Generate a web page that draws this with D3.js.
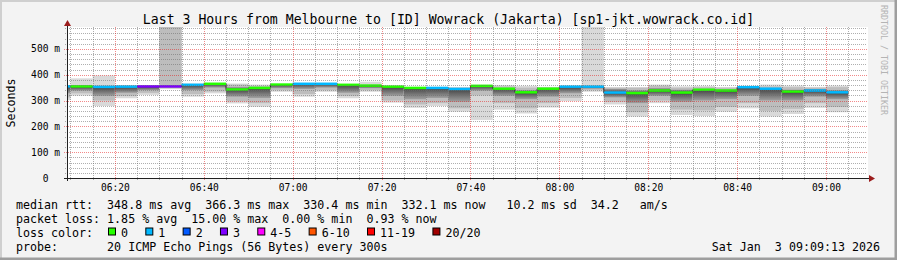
<!DOCTYPE html>
<html>
<head>
<meta charset="utf-8">
<script src="https://cdn.jsdelivr.net/npm/d3@7"></script>
<style>
  html, body { margin: 0; padding: 0; background: #f3f3f3; }
  svg { display: block; font-family: "DejaVu Sans Mono", monospace; }
  text { white-space: pre; }
</style>
</head>
<body>
<svg id="chart" width="897" height="260"></svg>
<script>
// --- data (ms), one entry per 5-minute step, keyed by step end time ---
const endTimes = ['06:10','06:15','06:20','06:25','06:30','06:35','06:40','06:45','06:50','06:55',
                  '07:00','07:05','07:10','07:15','07:20','07:25','07:30','07:35','07:40','07:45',
                  '07:50','07:55','08:00','08:05','08:10','08:15','08:20','08:25','08:30','08:35',
                  '08:40','08:45','08:50','08:55','09:00','09:05'];
const medianRtt = [354,354,352,353,354,354,360,364,342,348, 361,364,364,360,357,353,348,348,344,356,
                   345,331,345,353,353,330,328,338,330,341, 338,351,345,334,338,331];
const lostPings = [1,0,1,1,3,3,1,0,0,0, 0,1,1,0,0,0,0,1,1,0, 0,0,0,1,1,1,0,0,0,0, 0,1,1,0,1,1];
const pingMin   = [302,319,279,309,322,345,315,328,289,276, 334,315,334,309,334,292,272,279,257,225,
                   265,250,273,298,334,285,238,290,244,240, 257,270,238,248,272,255];
const ping10    = [312,328,300,318,330,348,325,335,297,290, 340,325,340,318,340,300,285,290,270,320,
                   290,270,290,310,340,295,255,300,265,262, 275,290,260,268,290,275];
const ping25    = [328,338,318,330,340,351,340,350,315,310, 348,345,350,330,348,318,305,310,295,338,
                   318,305,315,328,346,312,290,318,295,300, 305,318,300,300,315,305];
const ping75    = [356,357,354,355,356,357,362,366,352,352, 363,366,366,362,359,356,351,351,347,358,
                   348,340,348,355,356,345,340,348,342,345, 343,354,348,342,345,340];
const ping90    = [357,360,358,357,357,600,364,366,362,357, 363,367,367,362,362,356,351,351,350,359,
                   355,350,351,355,357,350,350,357,350,352, 350,354,355,352,350,352];
const pingMax   = [358,386,397,360,358,600,366,367,366,362, 364,368,368,363,373,358,352,352,352,361,
                   360,357,353,356,600,352,352,362,355,357, 352,354,362,358,353,358];

const xTickLabels = ['06:20','06:40','07:00','07:20','07:40','08:00','08:20','08:40','09:00'];
const yTickValues = [0, 100, 200, 300, 400, 500];
const yTickLabels = ['0  ', '100 m', '200 m', '300 m', '400 m', '500 m'];

const lossLabels = ['0', '1', '2', '3', '4-5', '6-10', '11-19', '20/20'];
const lossColors = ['#26ff00', '#00b8ff', '#0059ff', '#7e00ff', '#ff00ff', '#ff5500', '#ff0000', '#a10000'];
const lossBreaks = [1, 2, 3, 4, 6, 11, 20];

const titleText = 'Last 3 Hours from Melbourne to [ID] Wowrack (Jakarta) [sp1-jkt.wowrack.co.id]';
const legendLines = [
  'median rtt:  348.8 ms avg  366.3 ms max  330.4 ms min  332.1 ms now   10.2 ms sd  34.2   am/s',
  'packet loss: 1.85 % avg  15.00 % max  0.00 % min  0.93 % now',
  'loss color:',
  'probe:       20 ICMP Echo Pings (56 Bytes) every 300s'
];
const stampText = 'Sat Jan  3 09:09:13 2026';

// --- layout ---
const W = 897, H = 260;
const plot = { left: 67, right: 867, top: 27, bottom: 178 };
const charW = 7.02;

const parseHM = d3.timeParse('%H:%M');
const parseHMS = d3.timeParse('%H:%M:%S');

const x = d3.scaleTime()
  .domain([parseHMS('06:09:13'), parseHMS('09:09:13')])
  .range([plot.left, plot.right]);
const y = d3.scaleLinear().domain([0, 585]).range([plot.bottom, plot.top]);
const lossColor = d3.scaleThreshold().domain(lossBreaks).range(lossColors);

const bars = endTimes.map((t, i) => {
  const end = parseHM(t);
  return {
    x0: Math.max(x(d3.timeMinute.offset(end, -5)), plot.left),
    x1: x(end),
    med: medianRtt[i], loss: lostPings[i],
    min: pingMin[i], p10: ping10[i], p25: ping25[i],
    p75: ping75[i], p90: ping90[i], max: pingMax[i]
  };
});

const svg = d3.select('#chart');
const defs = svg.append('defs');

// frame
svg.append('rect').attr('width', W).attr('height', H).attr('fill', '#f3f3f3');
svg.append('path').attr('d', `M0,${H} V0 H${W}`).attr('fill', 'none')
  .attr('stroke', '#cfcfcf').attr('stroke-width', 4);
svg.append('path').attr('d', `M0,${H} H${W} V0`).attr('fill', 'none')
  .attr('stroke', '#9e9e9e').attr('stroke-width', 5);

// plot canvas
svg.append('rect')
  .attr('x', plot.left).attr('y', plot.top)
  .attr('width', plot.right - plot.left + 1).attr('height', plot.bottom - plot.top)
  .attr('fill', '#ffffff');

defs.append('clipPath').attr('id', 'plotClip').append('rect')
  .attr('x', plot.left).attr('y', plot.top)
  .attr('width', plot.right - plot.left).attr('height', plot.bottom - plot.top);

const gData = svg.append('g').attr('clip-path', 'url(#plotClip)');

// smoke
bars.forEach((b, i) => {
  const g = gData.append('g');
  g.append('rect').attr('x', b.x0).attr('width', b.x1 - b.x0)
    .attr('y', y(b.max)).attr('height', y(b.min) - y(b.max)).attr('fill', '#d9d9d9');
  g.append('rect').attr('x', b.x0).attr('width', b.x1 - b.x0)
    .attr('y', y(b.p90)).attr('height', y(b.p10) - y(b.p90)).attr('fill', '#bdbdbd');

  const grad = defs.append('linearGradient').attr('id', `core${i}`)
    .attr('x1', 0).attr('y1', 0).attr('x2', 0).attr('y2', 1);
  const off = (b.p75 - b.med) / (b.p75 - b.p25);
  grad.append('stop').attr('offset', 0).attr('stop-color', '#9a9a9a');
  grad.append('stop').attr('offset', off).attr('stop-color', '#464646');
  grad.append('stop').attr('offset', 1).attr('stop-color', '#a0a0a0');
  g.append('rect').attr('x', b.x0).attr('width', b.x1 - b.x0)
    .attr('y', y(b.p75)).attr('height', y(b.p25) - y(b.p75)).attr('fill', `url(#core${i})`);
});

// median: dark step line, then loss-coloured segments
const stepPts = [];
bars.forEach(b => { stepPts.push([b.x0, y(b.med)], [b.x1, y(b.med)]); });
gData.append('path').attr('d', d3.line()(stepPts))
  .attr('fill', 'none').attr('stroke', '#202020').attr('stroke-width', 1);
gData.selectAll('rect.med').data(bars).join('rect').attr('class', 'med')
  .attr('x', d => d.x0).attr('width', d => d.x1 - d.x0)
  .attr('y', d => y(d.med) - 1.5).attr('height', 2.5)
  .attr('fill', d => lossColor(d.loss));

// grid (dotted, drawn over the smoke)
const gGrid = svg.append('g').attr('shape-rendering', 'crispEdges');
const minorX = d3.timeMinute.every(5).range(x.domain()[0], x.domain()[1]);
const majorX = xTickLabels.map(parseHM);
const isMajorX = t => majorX.some(m => +m === +t);
const minorY = d3.range(20, 585, 20).filter(v => v % 100 !== 0);
const minorCol = 'rgba(110,110,110,0.55)', majorCol = 'rgba(230,20,20,0.5)';

gGrid.selectAll('line.vmin').data(minorX.filter(t => !isMajorX(t))).join('line')
  .attr('class', 'vmin')
  .attr('x1', d => Math.round(x(d)) + 0.5).attr('x2', d => Math.round(x(d)) + 0.5)
  .attr('y1', plot.top).attr('y2', plot.bottom + 3)
  .attr('stroke', minorCol).attr('stroke-dasharray', '1,1');
gGrid.selectAll('line.hmin').data(minorY).join('line')
  .attr('class', 'hmin')
  .attr('x1', plot.left - 2).attr('x2', plot.right)
  .attr('y1', d => Math.round(y(d)) + 0.5).attr('y2', d => Math.round(y(d)) + 0.5)
  .attr('stroke', minorCol).attr('stroke-dasharray', '1,1');
gGrid.selectAll('line.vmaj').data(majorX).join('line')
  .attr('class', 'vmaj')
  .attr('x1', d => Math.round(x(d)) + 0.5).attr('x2', d => Math.round(x(d)) + 0.5)
  .attr('y1', plot.top).attr('y2', plot.bottom + 3)
  .attr('stroke', majorCol).attr('stroke-dasharray', '1,1');
gGrid.selectAll('line.hmaj').data(yTickValues.filter(v => v > 0)).join('line')
  .attr('class', 'hmaj')
  .attr('x1', plot.left - 3).attr('x2', plot.right)
  .attr('y1', d => Math.round(y(d)) + 0.5).attr('y2', d => Math.round(y(d)) + 0.5)
  .attr('stroke', majorCol).attr('stroke-dasharray', '1,1');

// axes
const axisCol = '#202020', arrowCol = '#9b1c1c';
svg.append('line').attr('x1', plot.left - 3).attr('x2', plot.right + 3)
  .attr('y1', plot.bottom + 0.5).attr('y2', plot.bottom + 0.5).attr('stroke', axisCol);
svg.append('line').attr('x1', plot.left + 0.5).attr('x2', plot.left + 0.5)
  .attr('y1', plot.bottom + 3).attr('y2', plot.top - 3).attr('stroke', axisCol);
svg.append('path')
  .attr('d', `M${plot.right + 2},${plot.bottom - 3} L${plot.right + 8},${plot.bottom + 0.5} L${plot.right + 2},${plot.bottom + 4} Z`)
  .attr('fill', arrowCol);
svg.append('path')
  .attr('d', `M${plot.left - 3},${plot.top - 1} L${plot.left + 0.5},${plot.top - 7} L${plot.left + 4},${plot.top - 1} Z`)
  .attr('fill', arrowCol);

// tick labels
svg.selectAll('text.xt').data(xTickLabels).join('text').attr('class', 'xt')
  .attr('x', d => x(parseHM(d)) + 0.5).attr('y', 191)
  .attr('text-anchor', 'middle').attr('font-size', 9.6).attr('fill', '#000')
  .text(d => d);
svg.selectAll('text.yt').data(yTickValues).join('text').attr('class', 'yt')
  .attr('x', 60).attr('y', d => y(d) + 3.5)
  .attr('text-anchor', 'end').attr('font-size', 9.6).attr('fill', '#000')
  .text((d, i) => yTickLabels[i]);

svg.append('text')
  .attr('transform', `translate(15,103) rotate(-90)`)
  .attr('text-anchor', 'middle').attr('font-size', 11.6).attr('fill', '#000')
  .text('Seconds');

// title + watermark
svg.append('text').attr('x', W / 2).attr('y', 24).attr('text-anchor', 'middle')
  .attr('font-size', 13.2).attr('fill', '#000').text(titleText);
svg.append('text').attr('transform', 'translate(881,5) rotate(90)')
  .attr('font-size', 8.3).attr('fill', '#b4b4b4').text('RRDTOOL / TOBI OETIKER');

// legend
const rowY = [208.5, 222.5, 236.5, 250.5];
legendLines.forEach((s, i) => {
  svg.append('text').attr('x', 16).attr('y', rowY[i]).attr('font-size', 11.65)
    .attr('fill', '#000').text(s);
});
let lx = 108;
lossLabels.forEach((lab, i) => {
  svg.append('rect').attr('x', lx + 0.5).attr('y', rowY[2] - 8.5).attr('width', 7).attr('height', 7)
    .attr('fill', lossColors[i]).attr('stroke', '#000').attr('stroke-width', 1);
  svg.append('text').attr('x', lx + 13).attr('y', rowY[2]).attr('font-size', 11.65)
    .attr('fill', '#000').text(lab);
  lx += 13 + lab.length * charW + 17.3;
});
svg.append('text').attr('x', 880).attr('y', rowY[3]).attr('text-anchor', 'end')
  .attr('font-size', 11.65).attr('fill', '#000').text(stampText);
</script>
</body>
</html>
